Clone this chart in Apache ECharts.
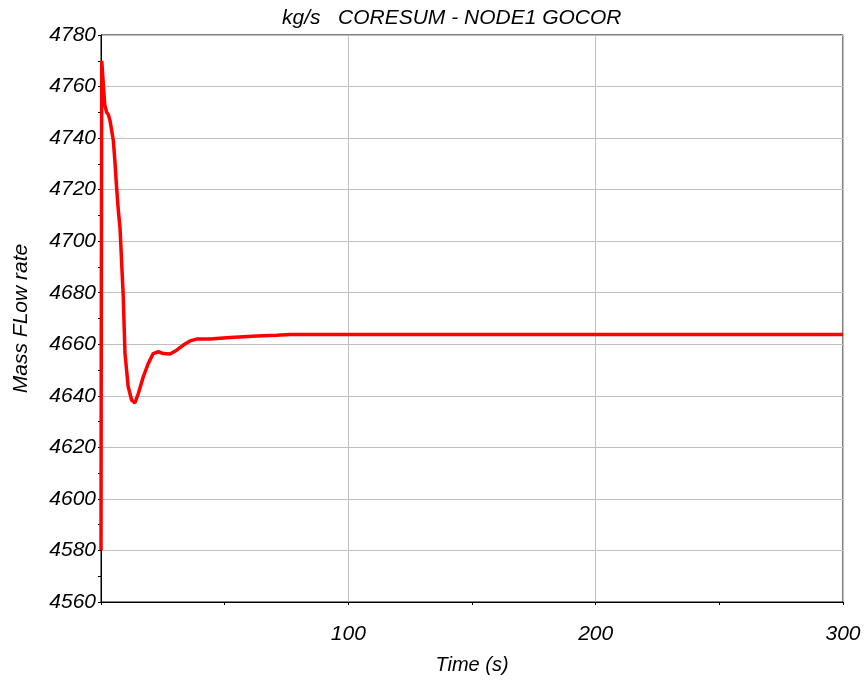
<!DOCTYPE html>
<html><head><meta charset="utf-8">
<script src="https://cdn.jsdelivr.net/npm/echarts@6/dist/echarts.min.js"></script>
<style>html,body{margin:0;padding:0;background:#fff}#c{width:865px;height:681px}</style>
</head><body><div id="c"></div>
<script>
const titleText = 'kg/s   CORESUM - NODE1 GOCOR';
const xName = 'Time (s)';
const yName = 'Mass FLow rate';
const timeS = [0, 0.1, 0.3, 0.9, 1.5, 2.3, 3.0, 3.6, 5.0, 5.7, 6.3, 7.0, 7.7, 9.0, 9.7, 11.0, 12.4, 13.7, 15.1, 17.1, 19.1, 21.1, 23.2, 25.2, 27.9, 30.6, 33.3, 36.0, 38.7, 44.1, 52.2, 63, 71, 76.4, 100, 150, 200, 250, 300];
const flow  = [4580, 4660, 4770, 4770, 4753, 4750, 4749, 4747, 4739, 4730, 4721, 4712, 4705, 4678.4, 4656.4, 4643.5, 4638.3, 4637.3, 4640.9, 4647.4, 4652.5, 4656.4, 4657.1, 4656.4, 4656.2, 4657.7, 4659.7, 4661.3, 4662.0, 4662.0, 4662.6, 4663.2, 4663.5, 4663.8, 4663.8, 4663.8, 4663.8, 4663.8, 4663.8];
const xMin = 0, xMax = 300, xStep = 100;
const yMin = 4560, yMax = 4780, yStep = 20;

const font = 'Liberation Sans, Arial, sans-serif';
const chart = echarts.init(document.getElementById('c'));
chart.setOption({
  animation: false,
  title: { text: titleText, left: 277, top: 3, textStyle: { fontFamily: font, fontStyle: 'italic', fontWeight: 'normal', fontSize: 21, color: '#000' } },
  grid: { left: 101, right: 22, top: 35, bottom: 79, show: true, borderColor: '#000', borderWidth: 1 },
  xAxis: {
    type: 'value', min: xMin, max: xMax, interval: xStep,
    name: xName, nameLocation: 'middle', nameGap: 53,
    nameTextStyle: { fontFamily: font, fontStyle: 'italic', fontSize: 20, color: '#000' },
    axisLine: { lineStyle: { color: '#000' } },
    axisTick: { show: true, inside: false, length: 3, lineStyle: { color: '#000' } },
    minorTick: { show: true, splitNumber: 2, length: 3, lineStyle: { color: '#000' } },
    axisLabel: { margin: 22, fontFamily: font, fontStyle: 'italic', fontSize: 21, color: '#000', formatter: v => v === 0 ? '' : String(v) },
    splitLine: { show: true, lineStyle: { color: '#c0c0c0', width: 1 } }
  },
  yAxis: {
    type: 'value', min: yMin, max: yMax, interval: yStep,
    name: yName, nameLocation: 'middle', nameGap: 69, nameRotate: 90,
    nameTextStyle: { fontFamily: font, fontStyle: 'italic', fontSize: 21, color: '#000' },
    axisLine: { show: true, lineStyle: { color: '#000' } },
    axisTick: { show: true, length: 3, lineStyle: { color: '#000' } },
    minorTick: { show: true, splitNumber: 2, length: 3, lineStyle: { color: '#000' } },
    axisLabel: { margin: 5, fontFamily: font, fontStyle: 'italic', fontSize: 21, color: '#000', formatter: v => String(v) },
    splitLine: { show: true, lineStyle: { color: '#c0c0c0', width: 1 } }
  },
  series: [{
    type: 'line', showSymbol: false, symbol: 'none',
    data: timeS.map((t, i) => [t, flow[i]]),
    lineStyle: { color: '#ff0000', width: 3.5 },
    clip: true
  }]
});
</script></body></html>
